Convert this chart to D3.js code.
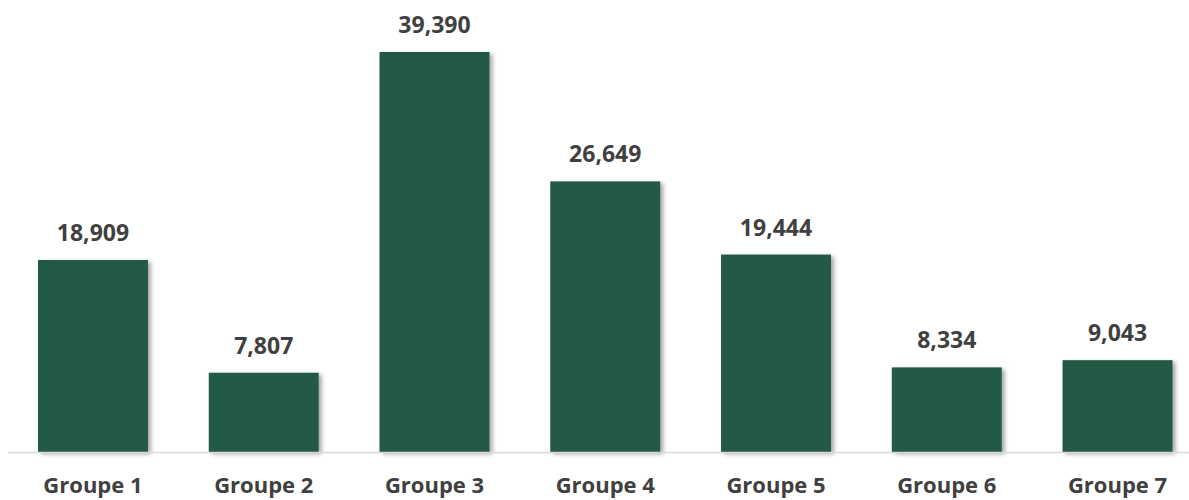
<!DOCTYPE html>
<html>
<head>
<meta charset="utf-8">
<script src="https://cdn.jsdelivr.net/npm/d3@7"></script>
<style>
  html, body { margin: 0; padding: 0; background: #ffffff; }
  svg { display: block; }
  text { font-family: "Open Sans", "Noto Sans", sans-serif; font-weight: 700; fill: #404040; }
</style>
</head>
<body>
<svg id="chart" width="1189" height="500"></svg>
<script>
const categories = ["Groupe 1", "Groupe 2", "Groupe 3", "Groupe 4", "Groupe 5", "Groupe 6", "Groupe 7"];
const values = [18909, 7807, 39390, 26649, 19444, 8334, 9043];

const svg = d3.select("#chart");
const baseline = 452;

const x = d3.scaleBand()
  .domain(categories)
  .range([7.6, 1202.9])
  .paddingInner(0.356)
  .paddingOuter(0.178);

const y = d3.scaleLinear()
  .domain([0, 39390])
  .range([baseline, 52]);

// soft shadow to the lower right of each bar
const defs = svg.append("defs");
const f = defs.append("filter").attr("id", "shadow")
  .attr("x", "-10%").attr("y", "-10%").attr("width", "130%").attr("height", "130%");
f.append("feDropShadow")
  .attr("dx", 3).attr("dy", 2).attr("stdDeviation", 2)
  .attr("flood-color", "#000").attr("flood-opacity", 0.35);

const data = categories.map((c, i) => ({ c, v: values[i] }));

svg.append("g").selectAll("rect")
  .data(data)
  .join("rect")
  .attr("x", d => x(d.c))
  .attr("y", d => y(d.v))
  .attr("width", x.bandwidth())
  .attr("height", d => baseline - y(d.v))
  .attr("fill", "#235a44")
  .attr("filter", "url(#shadow)");

// category axis line
svg.append("line")
  .attr("x1", 8).attr("x2", 1189)
  .attr("y1", baseline + 0.5).attr("y2", baseline + 0.5)
  .attr("stroke", "#d9d9d9").attr("stroke-width", 1.5);

const fmt = d3.format(",");

svg.append("g").selectAll("text")
  .data(data)
  .join("text")
  .attr("x", d => x(d.c) + x.bandwidth() / 2)
  .attr("y", d => y(d.v) - 19)
  .attr("text-anchor", "middle")
  .attr("font-size", 23)
  .text(d => fmt(d.v));

svg.append("g").selectAll("text")
  .data(categories)
  .join("text")
  .attr("x", d => x(d) + x.bandwidth() / 2)
  .attr("y", 493)
  .attr("text-anchor", "middle")
  .attr("font-size", 22)
  .text(d => d);
</script>
</body>
</html>
